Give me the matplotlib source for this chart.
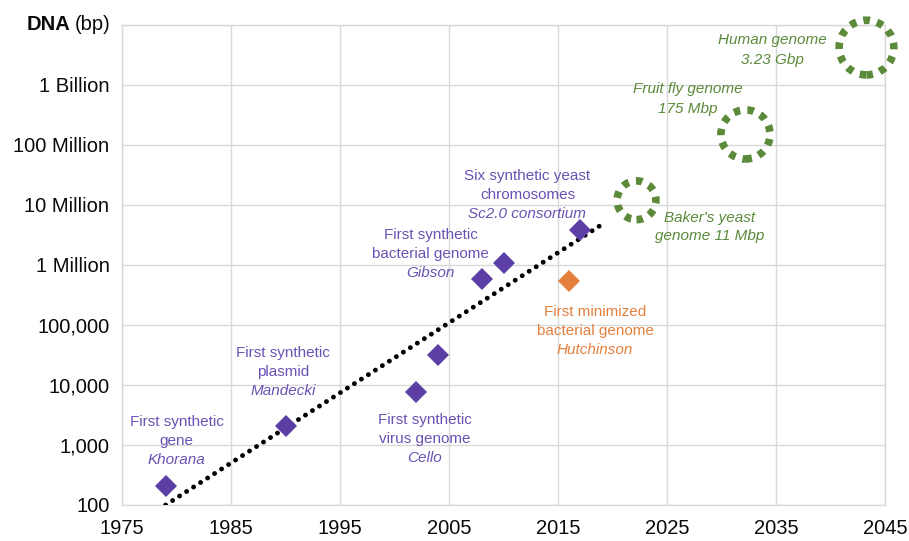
"""
Synthetic DNA milestones on a log scale, with a dotted trend line and the
genomes still to come drawn as dashed rings.
"""
import matplotlib

matplotlib.use("Agg")
import matplotlib.pyplot as plt
from matplotlib.ticker import FixedLocator, FixedFormatter, NullLocator

plt.rcParams["font.family"] = ["Liberation Sans", "DejaVu Sans"]

# --- data ---------------------------------------------------------------
done_years = [1979, 1990, 2002, 2004, 2008, 2010, 2017]
done_bp = [207, 2100, 7500, 32000, 583000, 1080000, 3800000]

minimized_years = [2016]
minimized_bp = [531000]

target_years = [2022.2, 2032.2, 2043.3]
target_bp = [1.2e7, 1.5e8, 4.2e9]
target_size = [780, 1250, 1550]

trend_years = [1979, 2019]
trend_bp = [100, 4.7e6]

x_ticks = [1975, 1985, 1995, 2005, 2015, 2025, 2035, 2045]
y_ticks = [1e2, 1e3, 1e4, 1e5, 1e6, 1e7, 1e8, 1e9, 1e10]
y_labels = ["100", "1,000", "10,000", "100,000", "1 Million", "10 Million",
            "100 Million", "1 Billion", ""]

PURPLE = "#5b3fa5"
PURPLE_TXT = "#6a52b3"
ORANGE = "#e4803c"
GREEN = "#5b8a3a"
GRID = "#d9d9d9"
INK = "#0a0a0a"


def label(ax, x, y, lines, color, italic_last=True, italic_all=False, lh=13.8):
    n = len(lines)
    for i, line in enumerate(lines):
        style = "italic" if italic_all or (italic_last and i == n - 1) else "normal"
        ax.annotate(line, xy=(x, y), xytext=(0, ((n - 1) / 2 - i) * lh),
                    textcoords="offset points", ha="center", va="center",
                    fontsize=11, color=color, style=style)


def main() -> None:
    fig = plt.figure(figsize=(9.09, 5.41), dpi=100)
    ax = fig.add_axes([122 / 909, 36 / 541, 763 / 909, 480 / 541])
    ax.set_yscale("log")
    ax.set_xlim(1975, 2045)
    ax.set_ylim(1e2, 1e10)

    ax.xaxis.set_major_locator(FixedLocator(x_ticks))
    ax.yaxis.set_major_locator(FixedLocator(y_ticks))
    ax.yaxis.set_major_formatter(FixedFormatter(y_labels))
    ax.yaxis.set_minor_locator(NullLocator())
    ax.tick_params(length=0, labelsize=14.5, colors=INK)
    ax.tick_params(axis="y", pad=9)
    ax.tick_params(axis="x", pad=10)
    ax.grid(True, color=GRID, lw=1)
    for s in ax.spines.values():
        s.set_color(GRID)
        s.set_linewidth(1)
    ax.set_axisbelow(True)

    ax.plot(trend_years, trend_bp, color="black", lw=3.5,
            ls=(0, (0.01, 1.7)), dash_capstyle="round", zorder=3)
    ax.plot(done_years, done_bp, "D", color=PURPLE, ms=11.5, mew=0, zorder=4)
    ax.plot(minimized_years, minimized_bp, "D", color=ORANGE, ms=11.5, mew=0, zorder=4)
    ax.scatter(target_years, target_bp, s=target_size, facecolors="none",
               edgecolors=GREEN, linewidths=5.5, linestyles=(0, (0.85, 0.95)),
               zorder=4, clip_on=False)

    label(ax, 1980.0, 1170, ["First synthetic", "gene", "Khorana"], PURPLE_TXT)
    label(ax, 1989.8, 16500, ["First synthetic", "plasmid", "Mandecki"], PURPLE_TXT)
    label(ax, 2002.8, 1260, ["First synthetic", "virus genome", "Cello"], PURPLE_TXT)
    label(ax, 2003.3, 1.52e6, ["First synthetic", "bacterial genome", "Gibson"], PURPLE_TXT)
    label(ax, 2012.2, 1.47e7, ["Six synthetic yeast", "chromosomes", "Sc2.0 consortium"],
          PURPLE_TXT)
    label(ax, 2018.4, 7.9e4, ["First minimized", "bacterial genome", "Hutchinson"], ORANGE)
    label(ax, 2028.9, 4.3e6, ["Baker's yeast", "genome 11 Mbp"], GREEN,
          italic_all=True, lh=13.2)
    label(ax, 2026.9, 5.8e8, ["Fruit fly genome", "175 Mbp"], GREEN,
          italic_all=True, lh=14.5)
    label(ax, 2034.7, 3.8e9, ["Human genome", "3.23 Gbp"], GREEN,
          italic_all=True, lh=14.5)

    # y-axis title sits where the 1e10 tick label would be
    bp = fig.text(110 / 909, 1 - 25 / 541, "(bp)", ha="right", va="center",
                  fontsize=14.5, color=INK)
    r = fig.canvas.get_renderer()
    w = bp.get_window_extent(r).width
    fig.text((110 - w - 4) / 909, 1 - 25 / 541, "DNA", ha="right", va="center",
             fontsize=14.5, fontweight="bold", color=INK)

    fig.savefig("out.png", dpi=100)
    plt.close(fig)


if __name__ == "__main__":
    main()
